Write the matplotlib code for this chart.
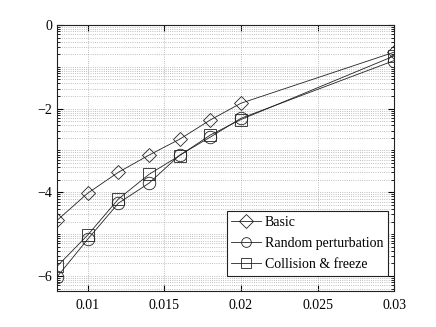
import numpy as np
import matplotlib
matplotlib.use("Agg")
import matplotlib.pyplot as plt
from matplotlib.ticker import FixedLocator, FuncFormatter, LogLocator, NullFormatter

plt.rcParams['font.family'] = ['Liberation Serif', 'DejaVu Serif']
plt.rcParams['mathtext.fontset'] = 'stix'

# step sizes and log10 of error
x = [0.008, 0.010, 0.012, 0.014, 0.016, 0.018, 0.020, 0.030]
basic = [-4.67, -4.02, -3.52, -3.11, -2.73, -2.27, -1.87, -0.65]
random_pert = [-6.02, -5.12, -4.26, -3.78, -3.11, -2.68, -2.23, -0.85]
collision = [-5.77, -5.02, -4.16, -3.57, -3.12, -2.63, -2.26, -0.74]
labels = ["Basic", "Random perturbation", "Collision & freeze"]
xticks = [0.01, 0.015, 0.02, 0.025, 0.03]
yticks = [0, -2, -4, -6]

fig = plt.figure(figsize=(4.36, 3.27), dpi=100)
ax = fig.add_axes([0.131, 0.110, 0.773, 0.8135])

ax.plot(x, 10.0 ** np.array(basic), '-', marker='D', color='#222222', lw=0.6,
        ms=7, mfc='none', mec='#222222', mew=0.6, label=labels[0])
ax.plot(x, 10.0 ** np.array(random_pert), '-', marker='o', color='#222222', lw=0.6,
        ms=9, mfc='none', mec='#222222', mew=0.6, label=labels[1])
ax.plot(x, 10.0 ** np.array(collision), '-', marker='s', color='#222222', lw=0.6,
        ms=8, mfc='none', mec='#222222', mew=0.6, label=labels[2])

ax.set_yscale('log')
ax.set_xlim(0.008, 0.03)
ax.set_ylim(10 ** -6.36, 1)
ax.set_xticks(xticks)
ax.set_xticklabels(['0.01', '0.015', '0.02', '0.025', '0.03'])
ax.yaxis.set_major_locator(FixedLocator([10.0 ** v for v in yticks]))
ax.yaxis.set_major_formatter(FuncFormatter(
    lambda v, p: str(int(round(np.log10(v)))).replace('-', '\u2212')))
ax.yaxis.set_minor_locator(LogLocator(base=10, subs=np.arange(1, 10), numticks=20))
ax.yaxis.set_minor_formatter(NullFormatter())

ax.grid(True, which='major', ls=':', color='#aaaaaa', lw=0.6)
ax.grid(True, which='minor', axis='y', ls=':', color='#aaaaaa', lw=0.6)
ax.tick_params(which='both', direction='in', top=True, right=True, labelsize=10)
ax.tick_params(axis='x', pad=6)
ax.tick_params(which='major', length=4)
ax.tick_params(which='minor', length=2)
for s in ax.spines.values():
    s.set_linewidth(0.8)
    s.set_color('#222222')

leg = ax.legend(loc='lower right', fontsize=10, fancybox=False, framealpha=1,
                edgecolor='#222222', handlelength=2.1, handletextpad=0.3,
                borderpad=0.35, labelspacing=0.6, borderaxespad=0,
                bbox_to_anchor=(0.982, 0.056))
leg.get_frame().set_linewidth(0.8)
for h in leg.legend_handles:
    h.set_markersize(7)

fig.savefig('out.png', dpi=100)
